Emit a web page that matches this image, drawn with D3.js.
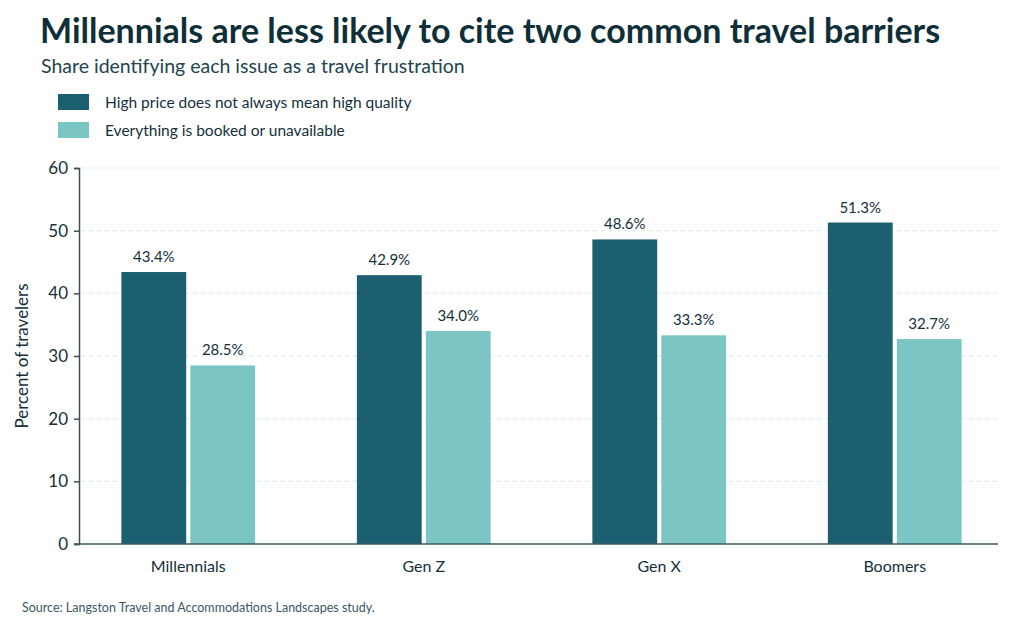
<!DOCTYPE html>
<html>
<head>
<meta charset="utf-8">
<script src="https://cdn.jsdelivr.net/npm/d3@7"></script>
<style>
  body { margin: 0; background: #ffffff; }
  text { font-family: "Lato", "Open Sans", sans-serif; }
</style>
</head>
<body>
<svg id="svg" width="1024" height="640"></svg>
<script>
// -- data
var generations = ["Millennials", "Gen Z", "Gen X", "Boomers"];
var seriesKeys = ["price", "booked"];
var seriesNames = ["High price does not always mean high quality", "Everything is booked or unavailable"];
var priceValues = [43.4, 42.9, 48.6, 51.3];
var bookedValues = [28.5, 34.0, 33.3, 32.7];
var yTicks = [0, 10, 20, 30, 40, 50, 60];

var colors = { price: "#1b5f70", booked: "#7cc5c5" };
var ink = "#15303a";

var rows = generations.map(function(g, i) {
    return { gen: g, price: priceValues[i], booked: bookedValues[i] };
});

var svg = d3.select("svg#svg");

// -- title block
svg.append("text")
    .attr("x", 40).attr("y", 43)
    .style("font-size", "34px").style("font-weight", "700")
    .style("fill", "#0f2f38")
    .text("Millennials are less likely to cite two common travel barriers");

svg.append("text")
    .attr("x", 41).attr("y", 73)
    .style("font-size", "19.5px")
    .style("fill", "#24444e")
    .text("Share identifying each issue as a travel frustration");

// -- legend
var legend = svg.append("g").attr("transform", "translate(58,94)");
seriesKeys.forEach(function(k, i) {
    var row = legend.append("g").attr("transform", "translate(0," + (i * 28) + ")");
    row.append("rect").attr("width", 31).attr("height", 16).style("fill", colors[k]);
    row.append("text").attr("x", 47).attr("y", 13.5)
        .style("font-size", "15.5px").style("fill", ink)
        .text(seriesNames[i]);
});

// -- scales
var margin = { left: 79, right: 998, top: 168, bottom: 544 };

var x0 = d3.scaleBand()
    .domain(generations)
    .range([margin.left, margin.right + 6])
    .paddingInner(0.432)
    .paddingOuter(0.18);

var x1 = d3.scaleBand()
    .domain(seriesKeys)
    .range([0, x0.bandwidth()])
    .paddingInner(0.06);

var y = d3.scaleLinear().domain([0, 60]).range([margin.bottom, margin.top]);

// -- gridlines
svg.append("g").selectAll("line").data(yTicks.slice(1)).enter()
    .append("line")
    .attr("x1", margin.left + 2).attr("x2", margin.right)
    .attr("y1", function(d) { return y(d); })
    .attr("y2", function(d) { return y(d); })
    .style("stroke", "#d3eaea")
    .style("stroke-width", 1)
    .style("stroke-dasharray", "4,4");

// -- bars
var groups = svg.append("g").selectAll("g").data(rows).enter()
    .append("g")
    .attr("transform", function(d) { return "translate(" + x0(d.gen) + ",0)"; });

groups.selectAll("rect")
    .data(function(d) { return seriesKeys.map(function(k) { return { key: k, value: d[k] }; }); })
    .enter().append("rect")
    .attr("x", function(d) { return x1(d.key); })
    .attr("y", function(d) { return y(d.value); })
    .attr("width", x1.bandwidth())
    .attr("height", function(d) { return y(0) - y(d.value); })
    .style("fill", function(d) { return colors[d.key]; });

groups.selectAll("text.val")
    .data(function(d) { return seriesKeys.map(function(k) { return { key: k, value: d[k] }; }); })
    .enter().append("text")
    .attr("class", "val")
    .attr("x", function(d) { return x1(d.key) + x1.bandwidth() / 2; })
    .attr("y", function(d) { return y(d.value) - 10; })
    .style("text-anchor", "middle")
    .style("font-size", "15px")
    .style("fill", ink)
    .text(function(d) { return d.value.toFixed(1) + "%"; });

// -- axes
var yAxis = svg.append("g")
    .attr("transform", "translate(" + margin.left + ",0)")
    .call(d3.axisLeft(y).tickValues(yTicks).tickSize(5).tickPadding(6));
yAxis.select(".domain").style("stroke", "#3d4f55").style("stroke-width", 1.5);
yAxis.selectAll(".tick line").style("stroke", "#3d4f55").style("stroke-width", 1.5);
yAxis.selectAll(".tick text").style("font-size", "17px").style("fill", ink)
    .style("font-family", "Lato, sans-serif");

svg.append("line")
    .attr("x1", margin.left - 5).attr("x2", margin.right)
    .attr("y1", y(0)).attr("y2", y(0))
    .style("stroke", "#3d5a62").style("stroke-width", 1.5);

svg.append("g").selectAll("text").data(generations).enter()
    .append("text")
    .attr("x", function(d) { return x0(d) + x0.bandwidth() / 2; })
    .attr("y", 572)
    .style("text-anchor", "middle")
    .style("font-size", "16px")
    .style("fill", ink)
    .text(function(d) { return d; });

svg.append("text")
    .attr("transform", "translate(28," + ((margin.top + margin.bottom) / 2) + ") rotate(-90)")
    .style("text-anchor", "middle")
    .style("font-size", "17px")
    .style("fill", ink)
    .text("Percent of travelers");

// -- source
svg.append("text")
    .attr("x", 22).attr("y", 612)
    .style("font-size", "12.5px")
    .style("fill", "#3b5862")
    .text("Source: Langston Travel and Accommodations Landscapes study.");
</script>
</body>
</html>
